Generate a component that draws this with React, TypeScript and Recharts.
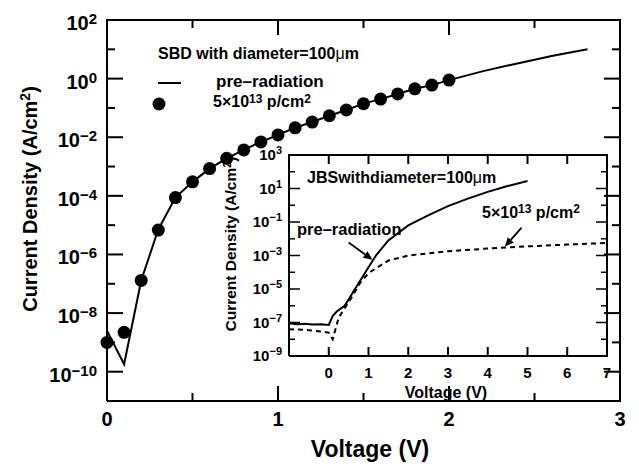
import React from 'react';
import { ComposedChart, Line, Scatter, XAxis, YAxis, ReferenceLine } from 'recharts';

const FONT = '"Liberation Sans", Arial, Helvetica, sans-serif';

// SBD (main plot): pre-radiation curve
const sbdPreVolts = [0, 0.1, 0.2, 0.3, 0.4, 0.5, 0.6, 0.7, 0.8, 0.9, 1.0, 1.1, 1.2, 1.3, 1.4, 1.5, 1.6, 1.7, 1.8, 1.9, 2.0, 2.2, 2.4, 2.6, 2.81];
const sbdPreJ = [2.5e-9, 1.8e-10, 1.3e-7, 7.1e-6, 8.7e-5, 3.0e-4, 8.5e-4, 1.9e-3, 3.7e-3, 6.9e-3, 1.2e-2, 2.1e-2, 3.3e-2, 5.4e-2, 8.5e-2, 0.14, 0.2, 0.3, 0.45, 0.6, 0.89, 1.8, 3.3, 5.9, 10];

// SBD after 5x10^13 p/cm^2
const sbdIrrVolts = [0, 0.1, 0.2, 0.3, 0.4, 0.5, 0.6, 0.7, 0.8, 0.9, 1.0, 1.1, 1.2, 1.3, 1.4, 1.5, 1.6, 1.7, 1.8, 1.9, 2.0];
const sbdIrrJ = [1.0e-9, 2.2e-9, 1.3e-7, 6.8e-6, 8.7e-5, 3.0e-4, 8.5e-4, 1.9e-3, 3.7e-3, 6.9e-3, 1.2e-2, 2.1e-2, 3.3e-2, 5.4e-2, 8.5e-2, 0.14, 0.2, 0.3, 0.45, 0.6, 0.89];

const sbdXDomain = [0, 3];
const sbdYDomain = [1e-11, 100];
const sbdXTicks = [0, 0.5, 1, 1.5, 2, 2.5, 3];
const sbdYTicks = [1e-11, 1e-10, 1e-9, 1e-8, 1e-7, 1e-6, 1e-5, 1e-4, 1e-3, 1e-2, 1e-1, 1, 10, 100];

// JBS (inset)
const jbsPreVolts = [-1, -0.8, -0.6, -0.4, -0.2, 0, 0.1, 0.2, 0.4, 0.7, 1.0, 1.2, 1.5, 2.0, 2.5, 3.0, 3.5, 4.0, 4.5, 5.0];
const jbsPreJ = [8.9e-8, 7.9e-8, 8.3e-8, 7.6e-8, 7.9e-8, 7.2e-8, 2.5e-7, 4.5e-7, 1.0e-6, 1.4e-5, 2.0e-4, 1.1e-3, 7.9e-3, 6.3e-2, 0.25, 0.89, 2.5, 6.3, 14, 28];
const jbsIrrVolts = [-1, -0.5, 0, 0.1, 0.25, 0.5, 0.8, 1.0, 1.5, 2.0, 3.0, 4.0, 5.0, 6.0, 7.0];
const jbsIrrJ = [4.0e-8, 3.5e-8, 2.5e-8, 1.0e-8, 2.0e-7, 1.6e-6, 2.5e-5, 8.9e-5, 5.0e-4, 1.0e-3, 1.8e-3, 2.6e-3, 3.5e-3, 4.5e-3, 5.6e-3];

const jbsXDomain = [-1, 7];
const jbsYDomain = [1e-9, 1000];
const jbsXTicks = [-1, 0, 1, 2, 3, 4, 5, 6, 7];
const jbsYTicks = [1e-9, 1e-8, 1e-7, 1e-6, 1e-5, 1e-4, 1e-3, 1e-2, 1e-1, 1, 10, 100, 1000];

// annotation arrows in the inset (tail -> head)
const preArrow = [{ x: 0.5, y: 5.9e-3 }, { x: 1.1, y: 5.6e-4 }];
const irrArrow = [{ x: 4.85, y: 4.6e-2 }, { x: 4.43, y: 3.4e-3 }];

const toPts = (xs: number[], ys: number[]) => xs.map((v, i) => ({ v, j: ys[i] }));

// closed rectangle through the four domain corners
const frameOf = (xd: number[], yd: number[]) => [
  { v: xd[0], j: yd[0] }, { v: xd[0], j: yd[1] }, { v: xd[1], j: yd[1] }, { v: xd[1], j: yd[0] }, { v: xd[0], j: yd[0] },
];

const expOf = (v: number) => Math.round(Math.log10(v));
const supText = (e: number) => (e < 0 ? '\u2212' + Math.abs(e) : String(e));

// tick labels
const mainLeftLabel = (p: any) => {
  const e = expOf(p.payload.value);
  if (Math.abs(e) % 2 !== 0) return <g />;
  return (
    <text x={p.x - 10} y={p.y + 10} textAnchor="end" fontSize={20} fontWeight="bold" fontFamily={FONT}>
      10<tspan dy={-6} fontSize={15}>{supText(e)}</tspan>
    </text>
  );
};
const mainBottomLabel = (p: any) =>
  Number.isInteger(p.payload.value) ? (
    <text x={p.x} y={p.y + 25} textAnchor="middle" fontSize={20} fontWeight="bold" fontFamily={FONT}>
      {p.payload.value}
    </text>
  ) : <g />;

const insetLeftLabel = (p: any) => {
  const e = expOf(p.payload.value);
  if (Math.abs(e) % 2 !== 1) return <g />;
  return (
    <text x={p.x - 7} y={p.y + 5} textAnchor="end" fontSize={15} fontWeight="bold" fontFamily={FONT}>
      10<tspan dy={-6} fontSize={11}>{supText(e)}</tspan>
    </text>
  );
};
const insetBottomLabel = (p: any) =>
  p.payload.value >= 0 ? (
    <text x={p.x} y={p.y + 22} textAnchor="middle" fontSize={15} fontWeight="bold" fontFamily={FONT}>
      {p.payload.value}
    </text>
  ) : <g />;

// tick marks as scatter points on the frame, each drawn as a short inward line
type Dir = 'up' | 'down' | 'left' | 'right';
const tickShape = (dir: Dir, len: (pt: any) => number, w: number) => (p: any) => {
  const pt = p.payload || {};
  const L = len(pt) || 8;
  const dx = dir === 'right' ? L : dir === 'left' ? -L : 0;
  const dy = dir === 'down' ? L : dir === 'up' ? -L : 0;
  return <line x1={p.cx} y1={p.cy} x2={p.cx + dx} y2={p.cy + dy} stroke="#000" strokeWidth={w} />;
};
const onX = (ticks: number[], j: number) => ticks.map((v) => ({ v, j }));
const onY = (ticks: number[], v: number) => ticks.map((j) => ({ v, j }));

const Arrow = (p: any) => {
  const { x1, y1, x2, y2 } = p;
  const a = Math.atan2(y2 - y1, x2 - x1);
  const L = 9;
  const W = 4;
  const bx = x2 - L * Math.cos(a);
  const by = y2 - L * Math.sin(a);
  const pts = `${x2},${y2} ${bx + W * Math.sin(a)},${by - W * Math.cos(a)} ${bx - W * Math.sin(a)},${by + W * Math.cos(a)}`;
  return (
    <g>
      <line x1={x1} y1={y1} x2={bx} y2={by} stroke="#000" strokeWidth={1.8} />
      <polygon points={pts} fill="#000" />
    </g>
  );
};

const W = 639;
const H = 468;

const mainXLen = (pt: any) => (Number.isInteger(pt.v) ? 15 : 8);
const mainYLen = (pt: any) => (Math.abs(expOf(pt.j)) % 2 === 0 ? 16 : 8);
const sbdXInner = sbdXTicks.slice(1, -1);
const sbdYInner = sbdYTicks.slice(1, -1);

const MainChart = () => (
  <ComposedChart width={W} height={H} margin={{ top: 20, right: 19, bottom: 27, left: 47 }}>
    <XAxis type="number" dataKey="v" domain={sbdXDomain} ticks={sbdXTicks}
      height={40} tickSize={0} tickMargin={0} tickLine={false} axisLine={false} tick={mainBottomLabel} interval={0} />
    <YAxis type="number" dataKey="j" scale="log" domain={sbdYDomain} ticks={sbdYTicks}
      width={60} tickSize={0} tickMargin={0} tickLine={false} axisLine={false} tick={mainLeftLabel} interval={0} />
    <Line data={frameOf(sbdXDomain, sbdYDomain)} dataKey="j" type="linear" stroke="#000" strokeWidth={2}
      dot={false} isAnimationActive={false} />
    <Scatter data={onX(sbdXInner, sbdYDomain[0])} dataKey="j" isAnimationActive={false} shape={tickShape('up', mainXLen, 2)} />
    <Scatter data={onX(sbdXInner, sbdYDomain[1])} dataKey="j" isAnimationActive={false} shape={tickShape('down', mainXLen, 2)} />
    <Scatter data={onY(sbdYInner, sbdXDomain[0])} dataKey="j" isAnimationActive={false} shape={tickShape('right', mainYLen, 2)} />
    <Scatter data={onY(sbdYInner, sbdXDomain[1])} dataKey="j" isAnimationActive={false} shape={tickShape('left', mainYLen, 2)} />
    <Line data={toPts(sbdPreVolts, sbdPreJ)} dataKey="j" type="linear" stroke="#000" strokeWidth={2}
      dot={false} isAnimationActive={false} />
    <Scatter data={toPts(sbdIrrVolts, sbdIrrJ)} dataKey="j" fill="#000" isAnimationActive={false}
      shape={(p: any) => <circle cx={p.cx} cy={p.cy} r={6.5} fill="#000" />} />
  </ComposedChart>
);

const insetYLen = (pt: any) => (Math.abs(expOf(pt.j)) % 2 === 1 ? 11 : 6);
const jbsXInner = jbsXTicks.slice(1, -1);
const jbsYInner = jbsYTicks.slice(1, -1);

const InsetChart = () => (
  <ComposedChart width={W} height={H} margin={{ top: 155, right: 32, bottom: 82, left: 239 }}>
    <XAxis type="number" dataKey="v" domain={jbsXDomain} ticks={jbsXTicks}
      height={30} tickSize={0} tickMargin={0} tickLine={false} axisLine={false} tick={insetBottomLabel} interval={0} />
    <YAxis type="number" dataKey="j" scale="log" domain={jbsYDomain} ticks={jbsYTicks}
      width={50} tickSize={0} tickMargin={0} tickLine={false} axisLine={false} tick={insetLeftLabel} interval={0} />
    <Line data={frameOf(jbsXDomain, jbsYDomain)} dataKey="j" type="linear" stroke="#000" strokeWidth={2}
      dot={false} isAnimationActive={false} />
    <Scatter data={onX(jbsXInner, jbsYDomain[0])} dataKey="j" isAnimationActive={false} shape={tickShape('up', () => 9, 2)} />
    <Scatter data={onX(jbsXInner, jbsYDomain[1])} dataKey="j" isAnimationActive={false} shape={tickShape('down', () => 9, 2)} />
    <Scatter data={onY(jbsYInner, jbsXDomain[0])} dataKey="j" isAnimationActive={false} shape={tickShape('right', insetYLen, 1.5)} />
    <Scatter data={onY(jbsYInner, jbsXDomain[1])} dataKey="j" isAnimationActive={false} shape={tickShape('left', insetYLen, 1.5)} />
    <Line data={toPts(jbsPreVolts, jbsPreJ)} dataKey="j" type="linear" stroke="#000" strokeWidth={2}
      dot={false} isAnimationActive={false} />
    <Line data={toPts(jbsIrrVolts, jbsIrrJ)} dataKey="j" type="linear" stroke="#000" strokeWidth={2}
      strokeDasharray="5 4" dot={false} isAnimationActive={false} />
    <ReferenceLine segment={preArrow} shape={Arrow} />
    <ReferenceLine segment={irrArrow} shape={Arrow} />
  </ComposedChart>
);

const Labels = () => (
  <svg width={W} height={H} style={{ position: 'absolute', left: 0, top: 0, pointerEvents: 'none' }}
    fontFamily={FONT} fontWeight="bold">
    {/* main axis titles */}
    <text x={37} y={199} transform="rotate(-90 37 199)" textAnchor="middle" fontSize={20}>
      Current  Density (A/cm<tspan dy={-7} fontSize={14}>2</tspan><tspan dy={7}>)</tspan>
    </text>
    <text x={370} y={457} textAnchor="middle" fontSize={23}>Voltage (V)</text>

    {/* main legend */}
    <text x={158} y={59} fontSize={16}>SBD with diameter=100<tspan fontWeight="normal">μ</tspan>m</text>
    <line x1={158} y1={83} x2={181} y2={83} stroke="#000" strokeWidth={2} />
    <text x={216} y={87} fontSize={17}>pre–radiation</text>
    <circle cx={159} cy={104} r={6.5} fill="#000" />
    <text x={213} y={107} fontSize={16}>
      5×10<tspan dy={-4} fontSize={12}>13</tspan><tspan dy={4}> p/cm</tspan><tspan dy={-4} fontSize={12}>2</tspan>
    </text>

    {/* inset titles */}
    <text x={236} y={244} transform="rotate(-90 236 244)" textAnchor="middle" fontSize={15.5}>
      Current Density (A/cm<tspan dy={-5} fontSize={11}>2</tspan><tspan dy={5}>)</tspan>
    </text>
    <text x={446} y={398} textAnchor="middle" fontSize={16}>Voltage (V)</text>

    {/* inset annotations */}
    <text x={307} y={183} fontSize={16}>JBSwithdiameter=100<tspan fontWeight="normal">μ</tspan>m</text>
    <text x={297} y={235} fontSize={16.5}>pre–radiation</text>
    <text x={482} y={218} fontSize={16}>
      5×10<tspan dy={-5} fontSize={12}>13</tspan><tspan dy={5}> p/cm</tspan><tspan dy={-5} fontSize={12}>2</tspan>
    </text>
  </svg>
);

const layer: React.CSSProperties = { position: 'absolute', left: 0, top: 0 };

export default function App() {
  return (
    <div style={{ position: 'absolute', left: 0, top: 0, width: W, height: H, background: '#fff' }}>
      <div style={layer}><MainChart /></div>
      <div style={layer}><InsetChart /></div>
      <Labels />
    </div>
  );
}
